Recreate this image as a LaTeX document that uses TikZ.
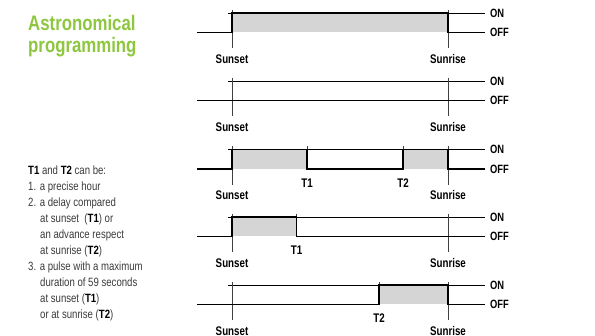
\documentclass[tikz,border=0pt]{standalone}
\usepackage{fontspec}
\setmainfont{Liberation Sans}
\newfontfamily\condfont[FakeStretch=0.78]{Liberation Sans}
\newfontfamily\titlefont[FakeStretch=0.8]{Liberation Sans}
\newfontfamily\bodyfont[FakeStretch=0.8]{Liberation Sans}
\definecolor{titlegreen}{HTML}{8DC63F}
\definecolor{bodygray}{HTML}{3A3A3A}
\definecolor{pulsefill}{HTML}{D5D5D5}
\newcommand{\tb}[1]{\textcolor{black}{\bfseries #1}}

\begin{document}
\begin{tikzpicture}[x=1pt,y=-1pt,
  signal/.style={line width=1.9pt, line join=miter},
  refline/.style={line width=0.7pt},
  marker/.style={line width=0.6pt, black!75},
  pulse/.style={fill=pulsefill, draw=none},
  timelbl/.style={font=\condfont\bfseries\fontsize{12.5}{12.5}\selectfont, inner sep=0pt},
  statelbl/.style={font=\condfont\bfseries\fontsize{12}{12}\selectfont, inner sep=0pt, anchor=west},
  titletxt/.style={font=\titlefont\bfseries\fontsize{21}{21}\selectfont, text=titlegreen, inner sep=0pt, anchor=base west},
  bodytxt/.style={font=\bodyfont\fontsize{12}{12}\selectfont, text=bodygray, inner sep=0pt, anchor=base west}
]
\useasboundingbox (0,0) rectangle (595,336);

% title
\node[titletxt] (title1) at (28,31) {Astronomical};
\node[titletxt] (title2) at (28,53) {programming};

% explanatory text
\node[bodytxt] (b0) at (28,175) {\tb{T1} and \tb{T2} can be:};
\node[bodytxt] (b1) at (28,191) {1. a precise hour};
\node[bodytxt] (b2) at (28,207) {2. a delay compared};
\node[bodytxt] (b3) at (40,223) {at sunset\ \ (\tb{T1}) or};
\node[bodytxt] (b4) at (40,239) {an advance respect};
\node[bodytxt] (b5) at (40,255) {at sunrise (\tb{T2})};
\node[bodytxt] (b6) at (28,271) {3. a pulse with a maximum};
\node[bodytxt] (b7) at (40,287) {duration of 59 seconds};
\node[bodytxt] (b8) at (40,303) {at sunset (\tb{T1})};
\node[bodytxt] (b9) at (40,319) {or at sunrise (\tb{T2})};

% common frame of every timing row: ON reference, sunset/sunrise markers, labels
\foreach \r/\yon in {1/13, 2/81, 3/149.5, 4/217, 5/285} {
  \pgfmathsetmacro{\yoff}{\yon+19.5}
  \pgfmathsetmacro{\ytop}{\yon-3}
  \pgfmathsetmacro{\ybot}{\yoff+16}
  \pgfmathsetmacro{\ylbl}{\yoff+26.5}
  \draw[refline] (228,\yon) -- (485,\yon);
  \draw[marker] (232,\ytop) -- (232,\ybot);
  \draw[marker] (448,\ytop) -- (448,\ybot);
  \node[timelbl] (sunset\r) at (232,\ylbl) {Sunset};
  \node[timelbl] (sunrise\r) at (448,\ylbl) {Sunrise};
  \node[statelbl] (on\r) at (490,\yon) {ON};
  \node[statelbl] (off\r) at (490,\yoff) {OFF};
}

% row 1: on from sunset to sunrise
\fill[pulse] (232,13) rectangle (448,32.5);
\draw[signal] (197,32.5) -- (232,32.5) -- (232,13) -- (448,13) -- (448,32.5) -- (485,32.5);

% row 2: always off
\draw[signal] (197,100.5) -- (485,100.5);

% row 3: on from sunset to T1 and from T2 to sunrise
\fill[pulse] (232,149.5) rectangle (307,169);
\fill[pulse] (403,149.5) rectangle (448,169);
\draw[marker] (307,146.5) -- (307,169);
\draw[marker] (403,146.5) -- (403,169);
\draw[signal] (197,169) -- (232,169) -- (232,149.5) -- (307,149.5) -- (307,169)
  -- (403,169) -- (403,149.5) -- (448,149.5) -- (448,169) -- (485,169);
\node[timelbl] (t1a) at (307,183) {T1};
\node[timelbl] (t2a) at (403,183) {T2};

% row 4: on from sunset to T1
\fill[pulse] (232,217) rectangle (296.5,236.5);
\draw[marker] (296.5,214) -- (296.5,236.5);
\draw[signal] (197,236.5) -- (232,236.5) -- (232,217) -- (296.5,217) -- (296.5,236.5) -- (485,236.5);
\node[timelbl] (t1b) at (296.5,250.5) {T1};

% row 5: on from T2 to sunrise
\fill[pulse] (379,285) rectangle (448,304.5);
\draw[marker] (379,282) -- (379,304.5);
\draw[signal] (197,304.5) -- (379,304.5) -- (379,285) -- (448,285) -- (448,304.5) -- (485,304.5);
\node[timelbl] (t2b) at (379,318.5) {T2};
\end{tikzpicture}
\end{document}
